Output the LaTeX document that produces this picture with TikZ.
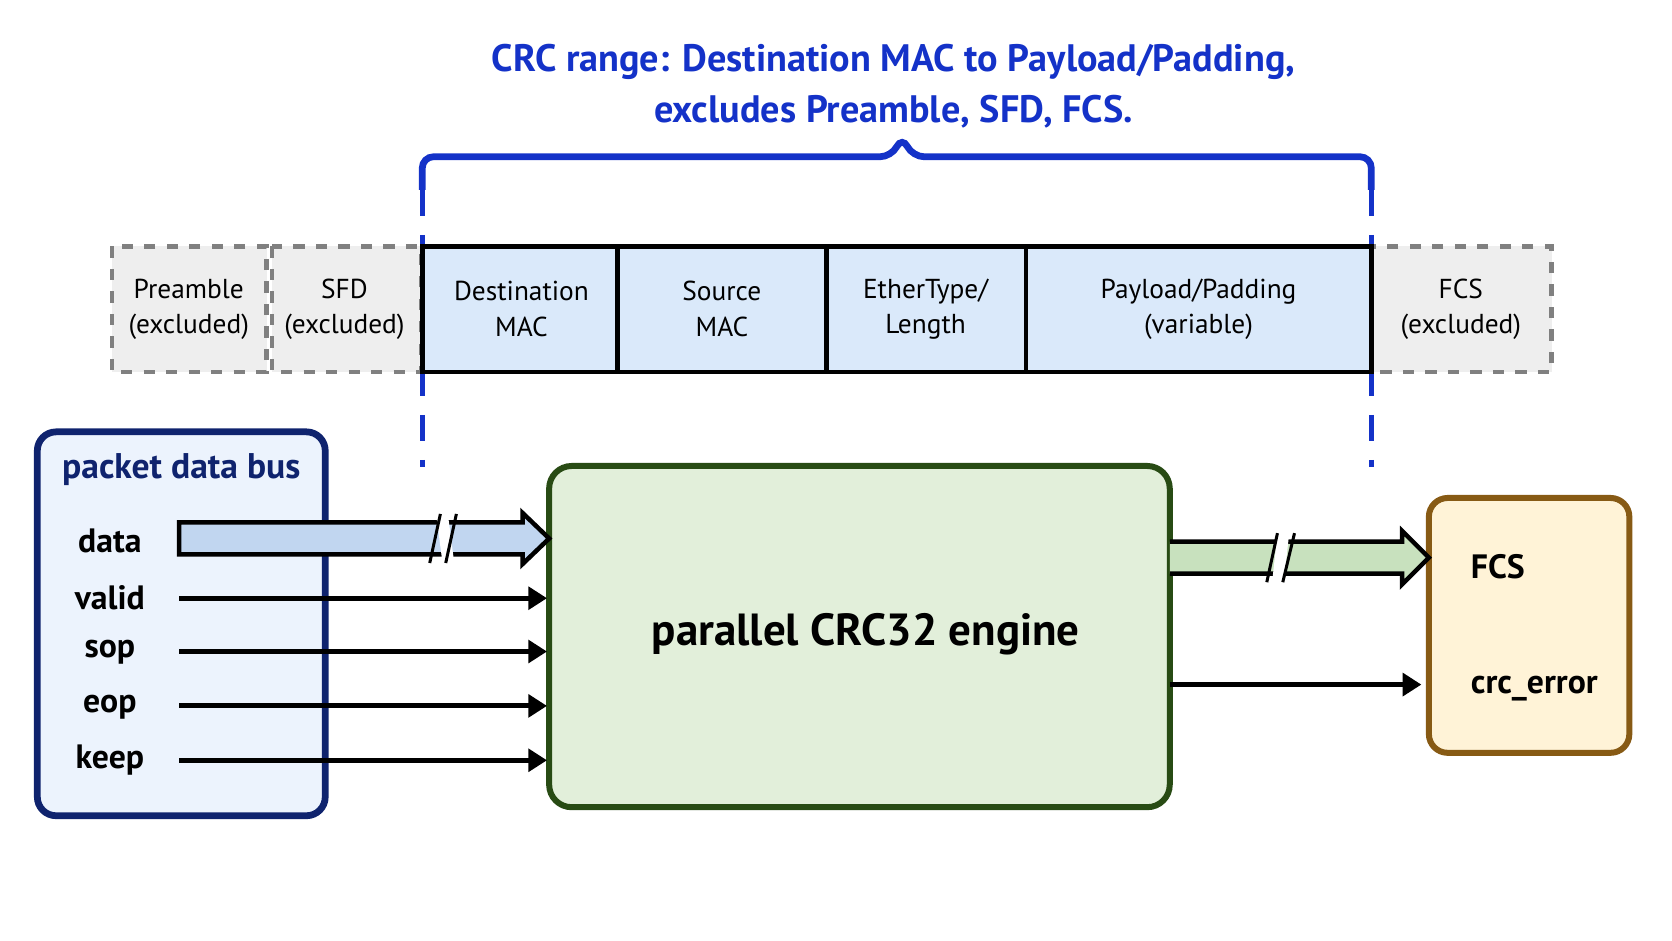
\documentclass[tikz,border=0pt]{standalone}
\usepackage{fontspec}
\setmainfont{PT Sans}
\usetikzlibrary{calc,arrows.meta}
\definecolor{tblue}{RGB}{20,50,200}
\definecolor{dblue}{RGB}{15,35,110}
\definecolor{lblue}{RGB}{218,233,250}
\definecolor{pblue}{RGB}{236,243,253}
\definecolor{ablue}{RGB}{193,214,240}
\definecolor{egreen}{RGB}{226,239,218}
\definecolor{dgreen}{RGB}{40,75,20}
\definecolor{agreen}{RGB}{200,225,190}
\definecolor{fyel}{RGB}{255,243,215}
\definecolor{brown}{RGB}{135,90,20}
\definecolor{gfill}{RGB}{238,238,238}
\tikzset{
  fld/.style={draw=black,line width=1.2pt,fill=lblue},
  exc/.style={draw=gray,dashed,line width=1.2pt,fill=gfill},
  flab/.style={font=\fontsize{7.3}{9.5}\selectfont,align=center},
  sig/.style={font=\fontsize{9}{11}\selectfont\bfseries,anchor=center},
  sarr/.style={line width=1.3pt,-{Triangle[length=5pt,width=6pt]}},
  brk/.style={line width=0.8pt}
}
\begin{document}
\begin{tikzpicture}[x=0.01cm,y=-0.01cm]
\useasboundingbox (0,0) rectangle (1568,882);
% title
\node[text=tblue,font=\fontsize{10.2}{13.5}\selectfont\bfseries,align=center] (title) at (838,81) {CRC range: Destination MAC to Payload/Padding,\\excludes Preamble, SFD, FCS.};
% brace
\draw[tblue,line width=1.8pt,rounded corners=3pt] (396,178) -- (396,147) -- (836,147) -- (846,128) -- (856,147) -- (1286,147) -- (1286,178);
\draw[tblue,line width=1.2pt,dash pattern=on 7pt off 5pt] (396,178) -- (396,438);
\draw[tblue,line width=1.2pt,dash pattern=on 7pt off 5pt] (1286,178) -- (1286,438);
% frame
\draw[exc] (105,231) rectangle (250,349); \node[flab] (preL) at (177,290) {Preamble\\(excluded)};
\draw[exc] (255,231) rectangle (395,349); \node[flab] (sfdL) at (323,290) {SFD\\(excluded)};
\draw[exc] (1286,231) rectangle (1455,349); \node[flab] (fcsL) at (1370,290) {FCS\\(excluded)};
\draw[fld] (396,231) rectangle (579,349); \node[flab] (dst) at (489,290) {Destination\\MAC};
\draw[fld] (579,231) rectangle (775,349); \node[flab] (src) at (677,290) {Source\\MAC};
\draw[fld] (775,231) rectangle (962,349); \node[flab] (et) at (868,290) {EtherType/\\Length};
\draw[fld] (962,231) rectangle (1286,349); \node[flab] (pay) at (1124,290) {Payload/Padding\\(variable)};
% packet bus box
\draw[draw=dblue,fill=pblue,line width=1.8pt,rounded corners=5pt] (35,405) rectangle (305,765);
\node[text=dblue,font=\fontsize{9.5}{11}\selectfont\bfseries] (pbt) at (170,440) {packet data bus};
\node[sig] (data) at (103,507) {data};
\node[sig] (valid) at (103,561) {valid};
\node[sig] (sop) at (103,612) {sop};
\node[sig] (eop) at (103,663) {eop};
\node[sig] (keep) at (103,713) {keep};
% engine
\draw[draw=dgreen,fill=egreen,line width=1.6pt,rounded corners=6pt] (515,437) rectangle (1097,757);
\node[font=\fontsize{12}{14}\selectfont\bfseries] (eng) at (812,595) {parallel CRC32 engine};
% output box
\draw[draw=brown,fill=fyel,line width=1.6pt,rounded corners=5pt] (1340,467) rectangle (1528,706);
\node[sig,anchor=west] (fcs) at (1367,531) {FCS};
\node[sig,anchor=west] (crc) at (1367,646) {crc\_error};
% fat arrows
\draw[line width=1.2pt,fill=ablue] (168,490) -- (490,490) -- (490,481) -- (515,505) -- (490,529) -- (490,520) -- (168,520) -- cycle;
\fill[white] (409,482) -- (420,482) -- (426,528) -- (415,528) -- cycle;
\draw[brk] (413,482) -- (403,528) (428,482) -- (418,528);
\draw[line width=1.2pt,fill=agreen] (1097,508) -- (1315,508) -- (1315,498) -- (1340,523) -- (1315,548) -- (1315,538) -- (1097,538);
\fill[white] (1198,500) -- (1209,500) -- (1204,546) -- (1193,546) -- cycle;
\draw[brk] (1198,500) -- (1188,546) (1214,500) -- (1203,546);
% signals
\foreach \y in {561,611,662,713} \draw[sarr] (168,\y) -- (513,\y);
\draw[sarr] (1097,642) -- (1333,642);
\end{tikzpicture}
\end{document}
